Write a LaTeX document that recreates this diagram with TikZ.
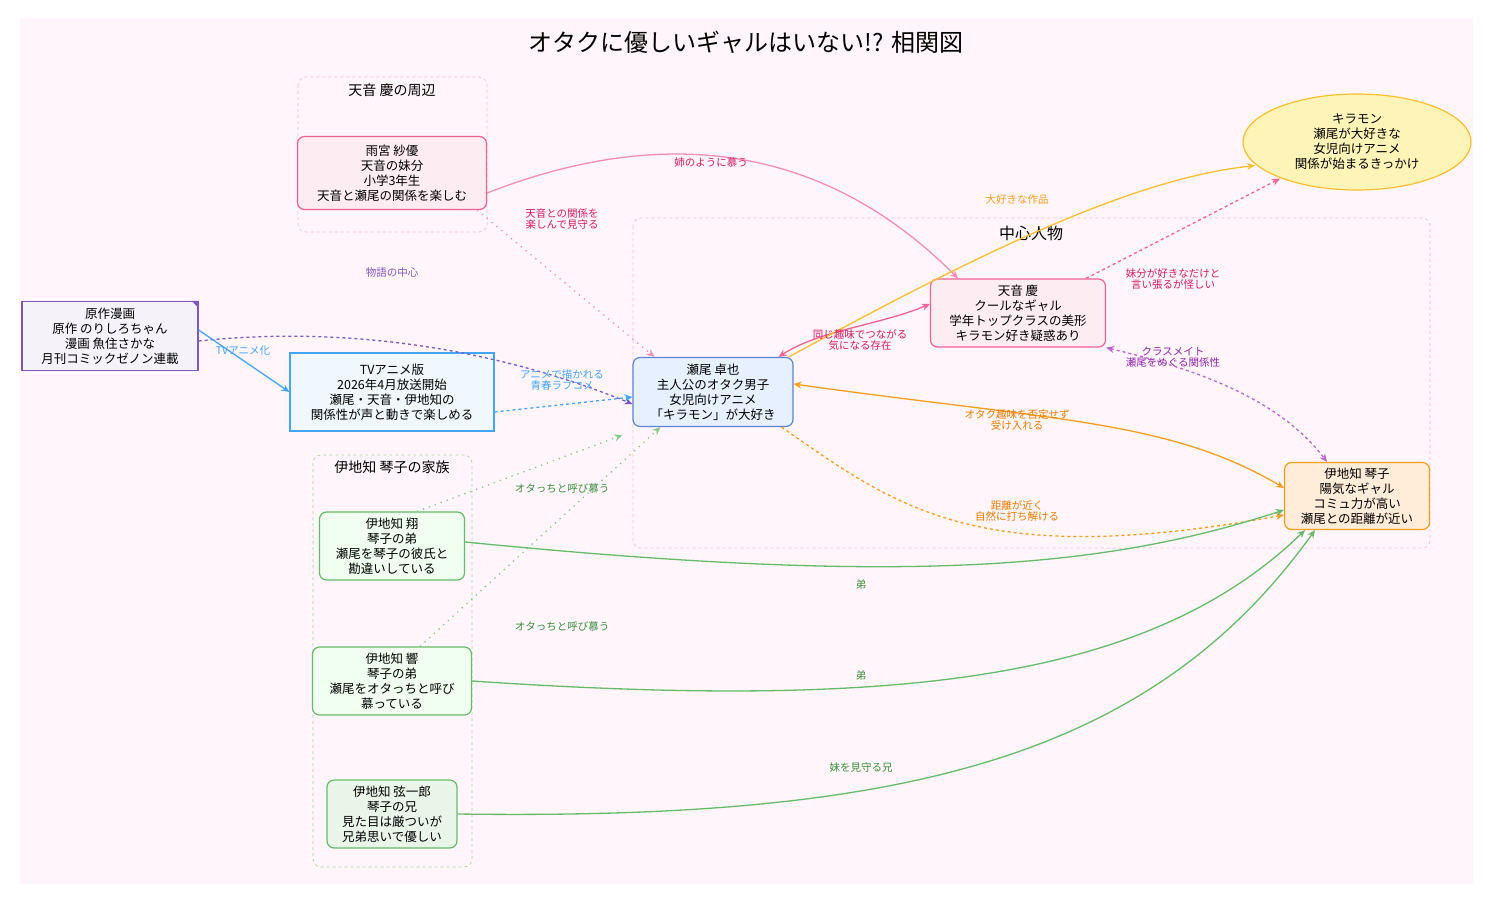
\documentclass[tikz,border=0pt]{standalone}
\usepackage{fontspec}
\setmainfont{Noto Sans CJK JP}
\usepackage{tikz}
\usetikzlibrary{shapes.geometric, arrows.meta}
\definecolor{bgpink}{HTML}{FFF5FA}
\definecolor{clpink}{HTML}{F8BBD0}
\definecolor{clgreen}{HTML}{A5D6A7}
\definecolor{pinkd}{HTML}{F06292}
\definecolor{pinkl}{HTML}{F48FB1}
\definecolor{pinkt}{HTML}{D81B60}
\definecolor{purd}{HTML}{7E57C2}
\definecolor{purl}{HTML}{BA68C8}
\definecolor{purt}{HTML}{8E24AA}
\definecolor{blued}{HTML}{42A5F5}
\definecolor{bluen}{HTML}{5C85D6}
\definecolor{bluef}{HTML}{E6F0FF}
\definecolor{yel}{HTML}{FBC02D}
\definecolor{yelf}{HTML}{FFF4B8}
\definecolor{ora}{HTML}{F59E1B}
\definecolor{orat}{HTML}{EF7C00}
\definecolor{grn}{HTML}{66BB6A}
\definecolor{grnt}{HTML}{388E3C}
\tikzstyle{box} = [rectangle, rounded corners=7pt, line width=1.2pt, align=center, font=\fontsize{12.5}{15}\selectfont, inner sep=3pt]
\tikzstyle{pink_node} = [box, draw=pinkd, fill=pinkd!12]
\tikzstyle{blue_node} = [box, draw=bluen, fill=bluef, minimum width=160pt, minimum height=69pt]
\tikzstyle{orange_node} = [box, draw=ora, fill=orange!15, minimum width=145pt, minimum height=67pt]
\tikzstyle{green_node} = [box, draw=grn, fill=green!7, minimum height=68pt]
\tikzstyle{cluster} = [rounded corners=8pt, dashed, line width=0.7pt]
\tikzstyle{lbl} = [font=\fontsize{10.5}{11.5}\selectfont, align=center]
\tikzstyle{arrow} = [line width=1.3pt,-{Stealth[length=8pt,width=7pt]}]
\tikzstyle{arrows2} = [line width=1.3pt,{Stealth[length=8pt,width=7pt]}-{Stealth[length=8pt,width=7pt]}]
\tikzstyle{dots} = [line width=1.3pt, dash pattern=on 1.3pt off 5pt]
\begin{document}
\begin{tikzpicture}[x=1pt, y=-1pt]
        \useasboundingbox (0,0) rectangle (1493,902);
        \fill[bgpink] (20,18) rectangle (1473,884);
        \node(title) at (746,42) {\fontsize{24}{28}\selectfont オタクに優しいギャルはいない!? 相関図};

        % clusters
        \draw[cluster, clpink] (298,77) rectangle (487,232);
        \node(amaroundlbl) at (392,90) {\fontsize{14}{16}\selectfont 天音 慶の周辺};
        \draw[cluster, clpink] (633,218) rectangle (1430,548);
        \node(centerlbl) at (1031,233) {\fontsize{16}{18}\selectfont 中心人物};
        \draw[cluster, clgreen] (313,455) rectangle (472,867);
        \node(familylbl) at (392,467) {\fontsize{14}{16}\selectfont 伊地知 琴子の家族};

        % nodes
        \node(sae) [pink_node, minimum width=189pt, minimum height=73pt] at (392,173) {雨宮 紗優\\天音の妹分\\小学3年生\\天音と瀬尾の関係を楽しむ};
        \node(manga) [box, rounded corners=0pt, draw=purd, fill=purd!8, minimum width=176pt, minimum height=69pt] at (110,336) {原作漫画\\原作 のりしろちゃん\\漫画 魚住さかな\\月刊コミックゼノン連載};
        \fill[purd] (manga.north east) ++(-7,0) -- ++(7,7) -- ++(0,-7) -- cycle;
        \node(anime) [box, rounded corners=0pt, draw=blued, fill=blued!8, minimum width=204pt, minimum height=78pt] at (392,392) {TVアニメ版\\2026年4月放送開始\\瀬尾・天音・伊地知の\\関係性が声と動きで楽しめる};
        \node(seo) [blue_node] at (713,392) {瀬尾 卓也\\主人公のオタク男子\\女児向けアニメ\\「キラモン」が大好き};
        \node(amane) [pink_node, minimum width=175pt, minimum height=68pt] at (1018,313) {天音 慶\\クールなギャル\\学年トップクラスの美形\\キラモン好き疑惑あり};
        \node(kiramon) [ellipse, draw=yel, fill=yelf, line width=1.2pt, minimum width=228pt, minimum height=96pt, align=center, inner sep=0pt, font=\fontsize{12.5}{15}\selectfont] at (1357,142) {キラモン\\瀬尾が大好きな\\女児向けアニメ\\関係が始まるきっかけ};
        \node(kotoko) [orange_node] at (1357,496) {伊地知 琴子\\陽気なギャル\\コミュ力が高い\\瀬尾との距離が近い};
        \node(sho) [green_node, minimum width=145pt, fill=green!6] at (392,546) {伊地知 翔\\琴子の弟\\瀬尾を琴子の彼氏と\\勘違いしている};
        \node(hibiki) [green_node, minimum width=159pt, fill=green!6] at (392,681) {伊地知 響\\琴子の弟\\瀬尾をオタっちと呼び\\慕っている};
        \node(genichiro) [green_node, minimum width=130pt, fill=grn!14] at (392,814) {伊地知 弦一郎\\琴子の兄\\見た目は厳ついが\\兄弟思いで優しい};

        % connectors
        \draw[arrow, pinkl] ([yshift=-20pt]sae.east) .. controls (700,110) and (850,170) .. ([xshift=-60pt]amane.north);
        \draw[arrow, pinkl, dots] ([xshift=-10pt]sae.south east) -- ([xshift=22pt]seo.north west);
        \draw[arrow, purd, dashed] ([yshift=-5pt]manga.east) .. controls (350,325) and (500,350) .. ([yshift=-12pt]seo.west);
        \draw[arrow, blued] ([yshift=6pt]manga.east) -- (anime.west);
        \draw[arrow, blued, dashed] ([yshift=-20pt]anime.east) -- ([yshift=-5pt]seo.west);
        \draw[arrows2, pinkd] ([xshift=-15pt]seo.north east) .. controls (820,330) and (880,325) .. ([yshift=9pt]amane.west);
        \draw[arrow, yel] ([xshift=-5pt]seo.north east) .. controls (950,270) and (1120,180) .. ([xshift=-102pt,yshift=25pt]kiramon.south);
        \draw[arrow, pinkd, dashed] ([xshift=-20pt]amane.north east) -- ([xshift=-77pt,yshift=12pt]kiramon.south);
        \draw[arrows2, purl, dashed] (amane.south east) .. controls (1200,370) and (1280,400) .. ([xshift=-30pt]kotoko.north);
        \draw[arrows2, ora] ([yshift=8pt]seo.east) .. controls (1050,420) and (1170,420) .. ([yshift=8pt]kotoko.west);
        \draw[arrow, ora, dashed] ([xshift=-12pt]seo.south east) .. controls (900,510) and (980,570) .. ([yshift=-19pt]kotoko.west);
        \draw[arrow, grn!80, dots] ([xshift=25pt]sho.north) -- ([xshift=-10pt,yshift=-8pt]seo.south west);
        \draw[arrow, grn!80, dots] ([xshift=28pt]hibiki.north) -- ([xshift=28pt]seo.south west);
        \draw[arrow, grn] ([yshift=4pt]sho.east) .. controls (900,585) and (1100,570) .. ([yshift=-14pt]kotoko.west);
        \draw[arrow, grn] (hibiki.east) .. controls (900,710) and (1150,680) .. ([xshift=-52pt]kotoko.south);
        \draw[arrow, grn] (genichiro.east) .. controls (900,820) and (1150,760) .. ([xshift=-42pt]kotoko.south);

        % labels
        \node(l1) [lbl, text=pinkt] at (711,163) {姉のように慕う};
        \node(l2) [lbl, text=pinkt] at (562,219) {天音との関係を\\楽しんで見守る};
        \node(l3) [lbl, text=purd] at (392,273) {物語の中心};
        \node(l4) [lbl, text=blued] at (243,351) {TVアニメ化};
        \node(l5) [lbl, text=blued] at (562,380) {アニメで描かれる\\青春ラブコメ};
        \node(l6) [lbl, text=pinkt] at (860,340) {同じ趣味でつながる\\気になる存在};
        \node(l7) [lbl, text=ora] at (1017,200) {大好きな作品};
        \node(l8) [lbl, text=pinkt] at (1173,279) {妹分が好きなだけと\\言い張るが怪しい};
        \node(l9) [lbl, text=purt] at (1173,357) {クラスメイト\\瀬尾をめぐる関係性};
        \node(l10) [lbl, text=orat] at (1017,420) {オタク趣味を否定せず\\受け入れる};
        \node(l11) [lbl, text=orat] at (1017,511) {距離が近く\\自然に打ち解ける};
        \node(l12) [lbl, text=grnt] at (562,488) {オタっちと呼び慕う};
        \node(l13) [lbl, text=grnt] at (562,626) {オタっちと呼び慕う};
        \node(l14) [lbl, text=grnt] at (861,584) {弟};
        \node(l15) [lbl, text=grnt] at (861,675) {弟};
        \node(l16) [lbl, text=grnt] at (861,768) {妹を見守る兄};
\end{tikzpicture}
\end{document}
